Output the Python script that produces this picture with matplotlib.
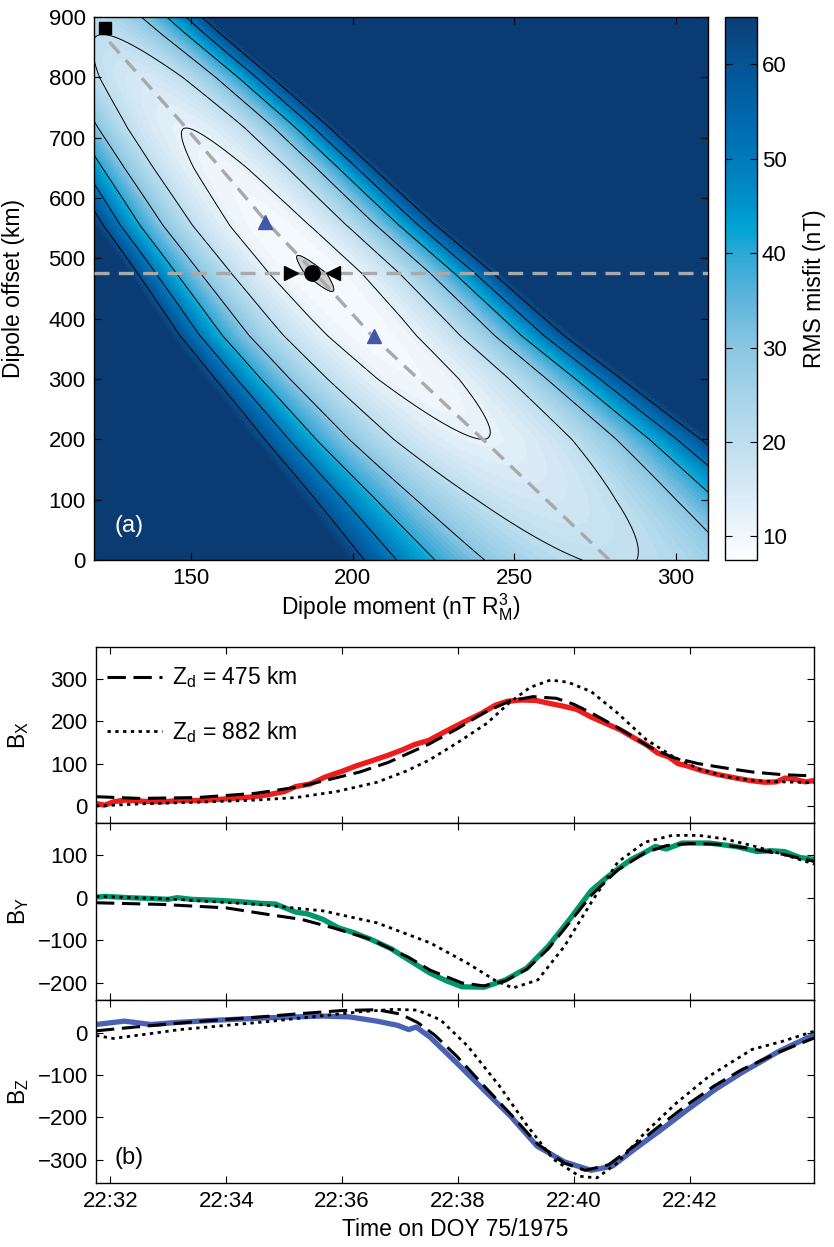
import numpy as np
import matplotlib
matplotlib.use("Agg")
import matplotlib.pyplot as plt
from matplotlib.colors import LinearSegmentedColormap, Normalize
from matplotlib.cm import ScalarMappable

plt.rcParams['font.family'] = ['Liberation Sans', 'DejaVu Sans']
plt.rcParams['mathtext.fontset'] = 'custom'
plt.rcParams['mathtext.rm'] = 'Liberation Sans'
plt.rcParams['mathtext.it'] = 'Liberation Sans:italic'

# ---- panel (a): misfit valley ----
# centre of the trade-off valley (dipole moment at each offset)
valley_z = [0, 200, 372, 477, 556, 728, 871, 900]
valley_m = [279.5, 240.3, 206.0, 188.2, 174.1, 146.6, 122.7, 118.0]
# misfit along the valley floor
floor_z = [0, 100, 200, 300, 400, 475, 550, 650, 716, 800, 871, 900]
floor_rms = [19.5, 16.0, 12.0, 10.0, 9.0, 8.5, 9.0, 10.5, 12.0, 15.5, 20.0, 21.5]
# steepness of the valley walls (nT per (nT R_M^3)^2)
wall_z = [0, 120, 228, 350, 477, 600, 672, 743, 900]
wall_k = [0.0075, 0.0090, 0.0100, 0.0140, 0.0180, 0.0190, 0.0230, 0.0270, 0.0300]

contour_levels = [8.7, 12, 20, 30, 40, 50, 60]
cbar_ticks = [10, 20, 30, 40, 50, 60]

best_moment, best_offset = 187.5, 475
alt_moment, alt_offset = 123.3, 882
arrow_moments = [172.9, 206.6]
arrow_offsets = [561, 372]

# colour scale of the misfit
cmap_vals = [7.5, 10, 15, 20, 25, 30, 35, 40, 42.5, 45, 50, 55, 60, 65]
cmap_rgb = [(252, 253, 255), (240, 247, 252), (214, 233, 245), (190, 222, 239),
            (165, 211, 233), (138, 198, 227), (95, 181, 219), (45, 168, 214),
            (0, 166, 211), (0, 148, 203), (0, 122, 186), (0, 102, 170),
            (5, 84, 150), (12, 62, 118)]

# ---- panel (b): field components, minutes after 22:00 ----
t_bx_obs = [31.75, 31.9, 32.05, 32.25, 32.6, 32.9, 33.2, 33.5, 33.8, 34.1, 34.4, 34.7, 35.0,
            35.2, 35.45, 35.7, 36.0, 36.25, 36.5, 36.8, 37.05, 37.25, 37.5, 37.8, 38.1, 38.4,
            38.65, 38.85, 39.1, 39.35, 39.55, 39.8, 40.05, 40.3, 40.55, 40.8, 41.05, 41.25,
            41.45, 41.65, 41.8, 41.95, 42.2, 42.5, 42.8, 43.05, 43.3, 43.5, 43.65, 43.85, 44.0, 44.15]
bx_obs = [6, 2, 10, 14, 11, 10, 13, 13, 15, 18, 21, 26, 34, 46, 52, 68, 82, 95, 106, 120, 133,
          145, 155, 177, 198, 218, 238, 247, 250, 249, 243, 236, 228, 210, 195, 180, 160, 145,
          125, 115, 100, 95, 84, 74, 66, 60, 56, 57, 66, 62, 57, 60]
t_bx_475 = [31.75, 32.5, 33.5, 34.5, 35.2, 35.7, 36.3, 36.8, 37.5, 38.0, 38.45, 38.9, 39.3,
            39.7, 40.0, 40.3, 40.8, 41.3, 41.7, 42.15, 42.6, 43.1, 43.6, 44.15]
bx_475 = [22, 18, 20, 30, 44, 60, 80, 103, 146, 183, 220, 248, 258, 254, 240, 220, 182, 140,
          115, 100, 90, 80, 74, 71]
t_bx_882 = [31.75, 32.5, 33.5, 34.5, 35.2, 35.9, 36.6, 37.1, 37.5, 38.0, 38.5, 38.9, 39.25,
            39.6, 39.9, 40.3, 40.75, 41.25, 41.7, 42.15, 42.6, 43.1, 43.6, 44.15]
bx_882 = [0, 5, 9, 14, 20, 34, 56, 82, 108, 150, 195, 245, 280, 297, 292, 270, 220, 157, 118,
          88, 70, 60, 57, 55]

t_by_obs = [31.75, 31.9, 32.3, 32.7, 33.0, 33.15, 33.4, 33.8, 34.2, 34.55, 34.85, 35.2, 35.4,
            35.67, 35.94, 36.2, 36.5, 36.85, 37.15, 37.52, 37.8, 38.07, 38.45, 38.82, 39.19,
            39.56, 39.93, 40.3, 40.55, 40.76, 41.0, 41.23, 41.41, 41.6, 41.87, 42.1, 42.34,
            42.8, 43.17, 43.4, 43.64, 43.91, 44.15]
by_obs = [1, 3, 0, -2, -4, 0, -4, -6, -9, -13, -15, -34, -38, -51, -71, -82, -98, -120, -146,
          -177, -195, -209, -210, -193, -165, -114, -51, 16, 45, 67, 90, 106, 120, 114, 128,
          128, 128, 120, 108, 110, 108, 94, 90]
t_by_475 = [31.75, 32.9, 34.0, 34.7, 35.3, 35.85, 36.5, 37.15, 37.52, 38.07, 38.45, 38.82,
            39.19, 39.56, 39.93, 40.3, 40.76, 41.23, 41.6, 42.0, 42.5, 43.0, 43.6, 44.15]
by_475 = [-12, -16, -24, -39, -51, -71, -98, -140, -170, -200, -207, -195, -168, -120, -58, 5,
          65, 105, 122, 127, 125, 116, 102, 85]
t_by_882 = [31.75, 33.0, 34.55, 35.67, 36.6, 37.52, 38.17, 38.63, 38.95, 39.38, 39.84, 40.3,
            40.76, 41.23, 41.7, 42.15, 42.6, 43.08, 43.6, 44.15]
by_882 = [3, -3, -16, -31, -59, -106, -154, -193, -212, -193, -114, -12, 83, 130, 146, 146,
          138, 122, 102, 79]

t_bz_obs = [31.75, 32.24, 32.7, 33.16, 33.8, 34.74, 35.66, 36.13, 36.6, 36.96, 37.15, 37.28,
            37.52, 37.98, 38.45, 38.91, 39.37, 39.84, 40.3, 40.67, 41.04, 41.5, 41.97, 42.43,
            42.9, 43.55, 44.15]
bz_obs = [20, 28, 20, 25, 30, 36, 40, 38, 28, 18, 8, 14, -10, -71, -135, -197, -268, -305,
          -325, -315, -276, -230, -181, -135, -94, -43, -4]
t_bz_475 = [31.75, 32.5, 33.5, 34.5, 35.3, 36.0, 36.6, 37.0, 37.3, 37.6, 37.98, 38.45, 38.91,
            39.37, 39.84, 40.2, 40.6, 41.04, 41.5, 41.97, 42.43, 42.9, 43.55, 44.15]
bz_475 = [5, 15, 27, 37, 46, 53, 55, 45, 25, -5, -55, -125, -192, -262, -308, -325, -312,
          -268, -218, -169, -125, -87, -45, -12]
t_bz_882 = [31.75, 32.05, 32.5, 33.2, 34.0, 34.8, 35.6, 36.3, 36.9, 37.3, 37.7, 38.17, 38.72,
            39.2, 39.65, 40.1, 40.4, 40.76, 41.23, 41.78, 42.34, 43.08, 43.6, 44.15]
bz_882 = [-6, -13, -5, 8, 18, 28, 40, 50, 56, 54, 31, -31, -126, -220, -299, -339, -343,
          -307, -236, -165, -102, -39, -20, 4]

time_ticks = [32, 34, 36, 38, 40, 42]
time_labels = ['22:32', '22:34', '22:36', '22:38', '22:40', '22:42']

W, H = 834, 1247
fig = plt.figure(figsize=(W / 100, H / 100), dpi=100)
TICK_FS = 16
LABEL_FS = 16.5


def box_ticks(ax):
    ax.tick_params(direction='in', top=True, right=True, length=5, width=0.8,
                   labelsize=TICK_FS, pad=6)
    for sp in ax.spines.values():
        sp.set_linewidth(1.0)


# ---------------- panel (a) ----------------
ax_a = fig.add_axes([94 / W, 1 - 560 / H, 614 / W, 543 / H])
cax = fig.add_axes([725 / W, 1 - 560 / H, 32 / W, 543 / H])

cmap = LinearSegmentedColormap.from_list(
    'misfit',
    [((v - cmap_vals[0]) / (cmap_vals[-1] - cmap_vals[0]), tuple(c / 255 for c in rgb))
     for v, rgb in zip(cmap_vals, cmap_rgb)])
cmap.set_over('#0b3b73')
norm = Normalize(cmap_vals[0], cmap_vals[-1])

mom = np.linspace(120, 310, 500)
off = np.linspace(0, 900, 500)
MM, ZZ = np.meshgrid(mom, off)
centre = np.interp(ZZ, valley_z, valley_m)
floor = np.interp(ZZ, floor_z, floor_rms)
# smooth the wall steepness so the outer contours stay straight-ish
k = np.polyval(np.polyfit(wall_z, wall_k, 2), ZZ)
rms = floor + k * (MM - centre) ** 2

ax_a.contourf(MM, ZZ, rms, levels=np.arange(7.5, 65.01, 1.25), cmap=cmap, norm=norm,
              extend='max')
ax_a.contourf(MM, ZZ, rms, levels=[0, contour_levels[0]], colors=['#cfcfcf'], zorder=2)
ax_a.contour(MM, ZZ, rms, levels=contour_levels, colors='black', linewidths=0.7, zorder=3)

ax_a.axhline(best_offset, color='#a9a9a9', lw=2.4, ls=(0, (4.5, 2.8)), zorder=4)
ax_a.plot(valley_m[:-1], valley_z[:-1], color='#a9a9a9', lw=2.4, ls=(0, (4.5, 2.8)), zorder=4)
ax_a.plot(best_moment, best_offset, 'o', color='black', ms=11, zorder=6)
ax_a.plot(best_moment - 6.5, best_offset, '>', color='black', ms=10, zorder=6)
ax_a.plot(best_moment + 6.5, best_offset, '<', color='black', ms=10, zorder=6)
ax_a.plot(alt_moment, alt_offset, 's', color='black', ms=9, zorder=6)
ax_a.plot(arrow_moments, arrow_offsets, '^', color='#4357a8', ms=10, ls='none', zorder=6)

ax_a.set_xlim(120, 310)
ax_a.set_ylim(0, 900)
ax_a.set_xticks([150, 200, 250, 300])
ax_a.set_yticks(np.arange(0, 901, 100))
box_ticks(ax_a)
ax_a.set_xlabel('Dipole moment (nT R$_\\mathrm{M}^3$)', fontsize=LABEL_FS)
ax_a.set_ylabel('Dipole offset (km)', fontsize=LABEL_FS)
ax_a.xaxis.set_label_coords(0.5, -0.058)
ax_a.yaxis.set_label_coords(-0.112, 0.5)
ax_a.text(0.057, 0.063, '(a)', transform=ax_a.transAxes, color='white', fontsize=17,
          ha='center', va='center')

cb = fig.colorbar(ScalarMappable(norm=norm, cmap=cmap), cax=cax)
cb.set_ticks(cbar_ticks)
cb.outline.set_linewidth(1.0)
cax.tick_params(direction='in', left=True, right=True, length=5, width=0.8,
                labelsize=TICK_FS)
cb.set_label('RMS misfit (nT)', fontsize=LABEL_FS, labelpad=12)

# ---------------- panel (b) ----------------
left_b, width_b = 96 / W, 718 / W
ax_x = fig.add_axes([left_b, 1 - 823 / H, width_b, 176 / H])
ax_y = fig.add_axes([left_b, 1 - 1000 / H, width_b, 177 / H])
ax_z = fig.add_axes([left_b, 1 - 1183 / H, width_b, 183 / H])

dash = (0, (6, 2.5))
dot = (0, (1.2, 1.6))
panels = [
    (ax_x, t_bx_obs, bx_obs, t_bx_475, bx_475, t_bx_882, bx_882, '#ee1c1c', 'B$_\\mathrm{X}$',
     (-40, 375), [0, 100, 200, 300]),
    (ax_y, t_by_obs, by_obs, t_by_475, by_475, t_by_882, by_882, '#00966c', 'B$_\\mathrm{Y}$',
     (-240, 175), [-200, -100, 0, 100]),
    (ax_z, t_bz_obs, bz_obs, t_bz_475, bz_475, t_bz_882, bz_882, '#4a62b4', 'B$_\\mathrm{Z}$',
     (-355, 78), [-300, -200, -100, 0]),
]
for ax, to, yo, t1, y1, t2, y2, col, lab, ylim, yt in panels:
    ax.plot(to, yo, color=col, lw=3.8, solid_capstyle='round', zorder=2)
    ax.plot(t1, y1, color='black', lw=2.2, ls=dash, zorder=3, label='Z$_\\mathrm{d}$ = 475 km')
    ax.plot(t2, y2, color='black', lw=2.0, ls=dot, zorder=3, label='Z$_\\mathrm{d}$ = 882 km')
    ax.set_xlim(31.75, 44.15)
    ax.set_ylim(*ylim)
    ax.set_yticks(yt)
    ax.set_xticks(time_ticks)
    box_ticks(ax)
    ax.set_ylabel(lab, fontsize=LABEL_FS)
    ax.yaxis.set_label_coords(-0.09, 0.5)

ax_x.set_xticklabels([])
ax_y.set_xticklabels([])
ax_z.set_xticklabels(time_labels)
ax_z.set_xlabel('Time on DOY 75/1975', fontsize=LABEL_FS)
ax_z.xaxis.set_label_coords(0.5, -0.19)
ax_z.text(0.046, 0.137, '(b)', transform=ax_z.transAxes, fontsize=17,
          ha='center', va='center')

ax_x.legend(loc='upper left', bbox_to_anchor=(0.016, 0.90), frameon=False,
            fontsize=LABEL_FS, handlelength=2.4, handletextpad=0.4, labelspacing=1.25,
            borderaxespad=0.0, borderpad=0.0)

fig.savefig('out.png', dpi=100)
